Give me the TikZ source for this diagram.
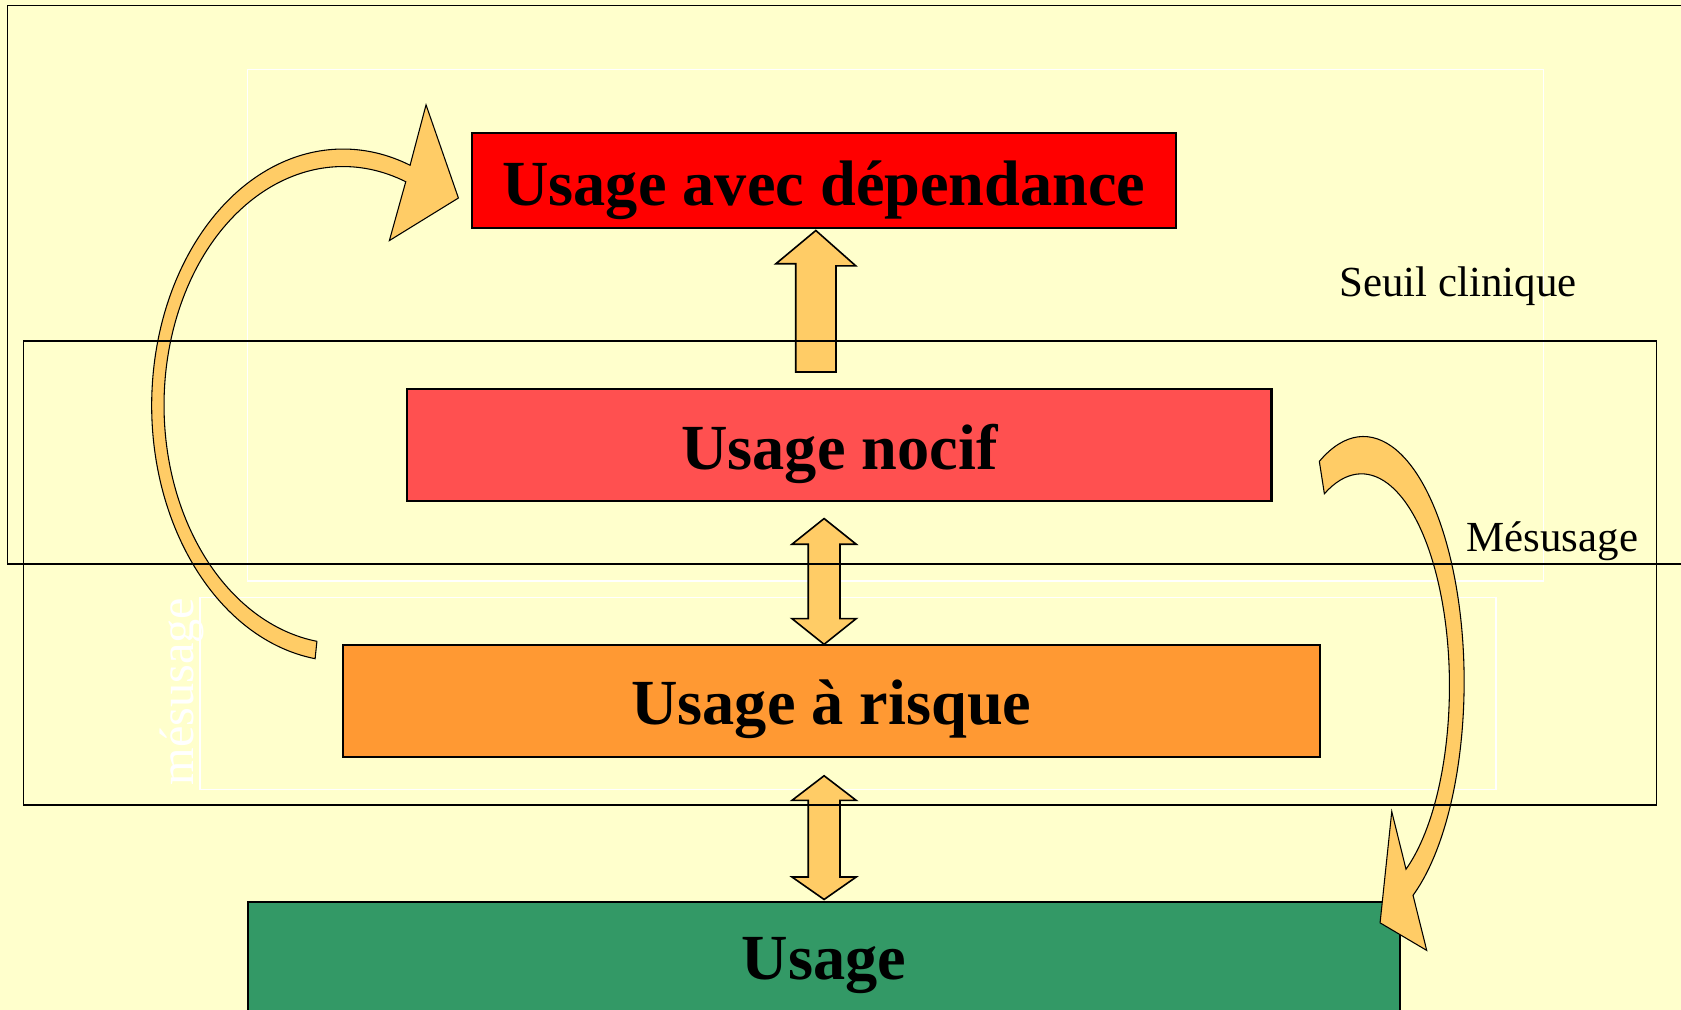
\documentclass[tikz,border=0pt]{standalone}
\usepackage{fontspec}
\setmainfont{Liberation Serif}
\usetikzlibrary{calc}
\definecolor{bgyellow}{RGB}{255,255,204}
\definecolor{depred}{RGB}{255,0,0}
\definecolor{nocifred}{RGB}{255,80,80}
\definecolor{risqueorange}{RGB}{255,153,51}
\definecolor{usagegreen}{RGB}{51,153,102}
\definecolor{arrowfill}{RGB}{255,204,102}
\begin{document}
\begin{tikzpicture}[x=1pt,y=-1pt,
  levelbox/.style={draw=black, line width=2pt, inner sep=0pt, text depth=0pt,
    font=\fontsize{60}{60}\selectfont\bfseries},
  blockarrow/.style={draw=black, fill=arrowfill, line width=1.5pt, line join=miter},
  curvedarrow/.style={draw=black, fill=arrowfill, line width=1pt, line join=miter},
  zone/.style={draw=black, line width=1.5pt},
  whitezone/.style={draw=white, line width=1.2pt},
  sidelabel/.style={font=\fontsize{40}{40}\selectfont, inner sep=0pt, anchor=base}
]
\useasboundingbox (0,0) rectangle (1568,942);
\clip (0,0) rectangle (1568,942);
\fill[bgyellow] (0,0) rectangle (1568,942);

% white frames (behind everything)
\draw[whitezone] (231,64.5) rectangle (1440,542);
\draw[whitezone] (186.6,557) rectangle (1395.5,736.3);

% level boxes
\node[levelbox, fill=depred, minimum width=657pt, minimum height=89pt, text height=47pt]
  (dep) at (768.5,168.5) {Usage avec dépendance};
\node[levelbox, fill=nocifred, minimum width=806pt, minimum height=104pt, text height=46pt]
  (nocif) at (783,415) {Usage nocif};
\node[levelbox, fill=risqueorange, minimum width=911pt, minimum height=104pt, text height=44pt]
  (risque) at (775.5,654) {Usage à risque};
\node[levelbox, fill=usagegreen, minimum width=1075pt, minimum height=192pt,
  text height=0pt, text depth=46pt]
  (usage) at (768.5,937) {Usage};

% straight block arrows
\coordinate (a1top) at ($(dep.south)+(-7.5,1)$);
\coordinate (a1bot) at ($(nocif.north)+(-22,-15)$);
\draw[blockarrow] (a1bot) ++(-18.75,0) -- ++(0,-101) -- ++(-18.5,0) -- (a1top)
  -- ++(37.25,33) -- ++(-18.5,0) -- ($(a1bot)+(18.75,0)$) -- cycle;

\coordinate (a2top) at ($(nocif.south)+(-14.3,15.7)$);
\coordinate (a2bot) at ($(risque.north)+(-6.8,0)$);
\draw[blockarrow] (a2top) -- ++(30,24) -- ++(-15.2,0) -- ($(a2bot)+(14.8,-24)$)
  -- ++(15.2,0) -- (a2bot) -- ++(-30,-24) -- ++(15.2,0) -- ($(a2top)+(-14.8,24)$)
  -- ++(-15.2,0) -- cycle;

\coordinate (a3top) at ($(risque.south)+(-6.8,16.6)$);
\coordinate (a3bot) at ($(usage.north)+(0.2,-1)$);
\draw[blockarrow] (a3top) -- ++(30,23) -- ++(-15.2,0) -- ($(a3bot)+(14.8,-21)$)
  -- ++(15.2,0) -- (a3bot) -- ++(-30,-21) -- ++(15.2,0) -- ($(a3top)+(-14.8,23)$)
  -- ++(-15.2,0) -- cycle;

% left curved arrow (from Usage a risque up to Usage avec dependance)
\draw[curvedarrow]
  ([shift={(320,378)}]98.4:178.5 and 239)
  arc[start angle=98.4, end angle=290.5, x radius=178.5, y radius=239]
  -- (397.4,97.8) -- (427.6,184.7) -- (363.2,224.4)
  -- ([shift={(320,378)}]290.5:167 and 222.6)
  arc[start angle=290.5, end angle=98.4, x radius=167, y radius=222.6]
  -- cycle;

% right curved arrow (from Usage nocif down to Usage)
\draw[curvedarrow]
  ([shift={(1271.8,636)}]244:93.9 and 228.8)
  arc[start angle=244, end angle=420.5, x radius=93.9, y radius=228.8]
  -- (1330.8,886.5) -- (1287.3,860.8) -- (1298.2,757)
  -- ([shift={(1270,640)}]419.6:82 and 198)
  arc[start angle=419.6, end angle=245, x radius=82, y radius=198]
  -- cycle;

% black frames (on top of arrows)
\draw[zone] (7,5) rectangle (1600,526);
\draw[zone] (22,318) rectangle (1545,751);

% labels
\node[sidelabel] (seuil) at (1360,277) {Seuil clinique};
\node[sidelabel] (mes) at (1448,514.6) {Mésusage};
\node[font=\fontsize{45}{45}\selectfont, text=white, rotate=90, anchor=base, inner sep=0pt]
  (mesw) at (180.3,645.2) {mésusage};
\end{tikzpicture}
\end{document}
